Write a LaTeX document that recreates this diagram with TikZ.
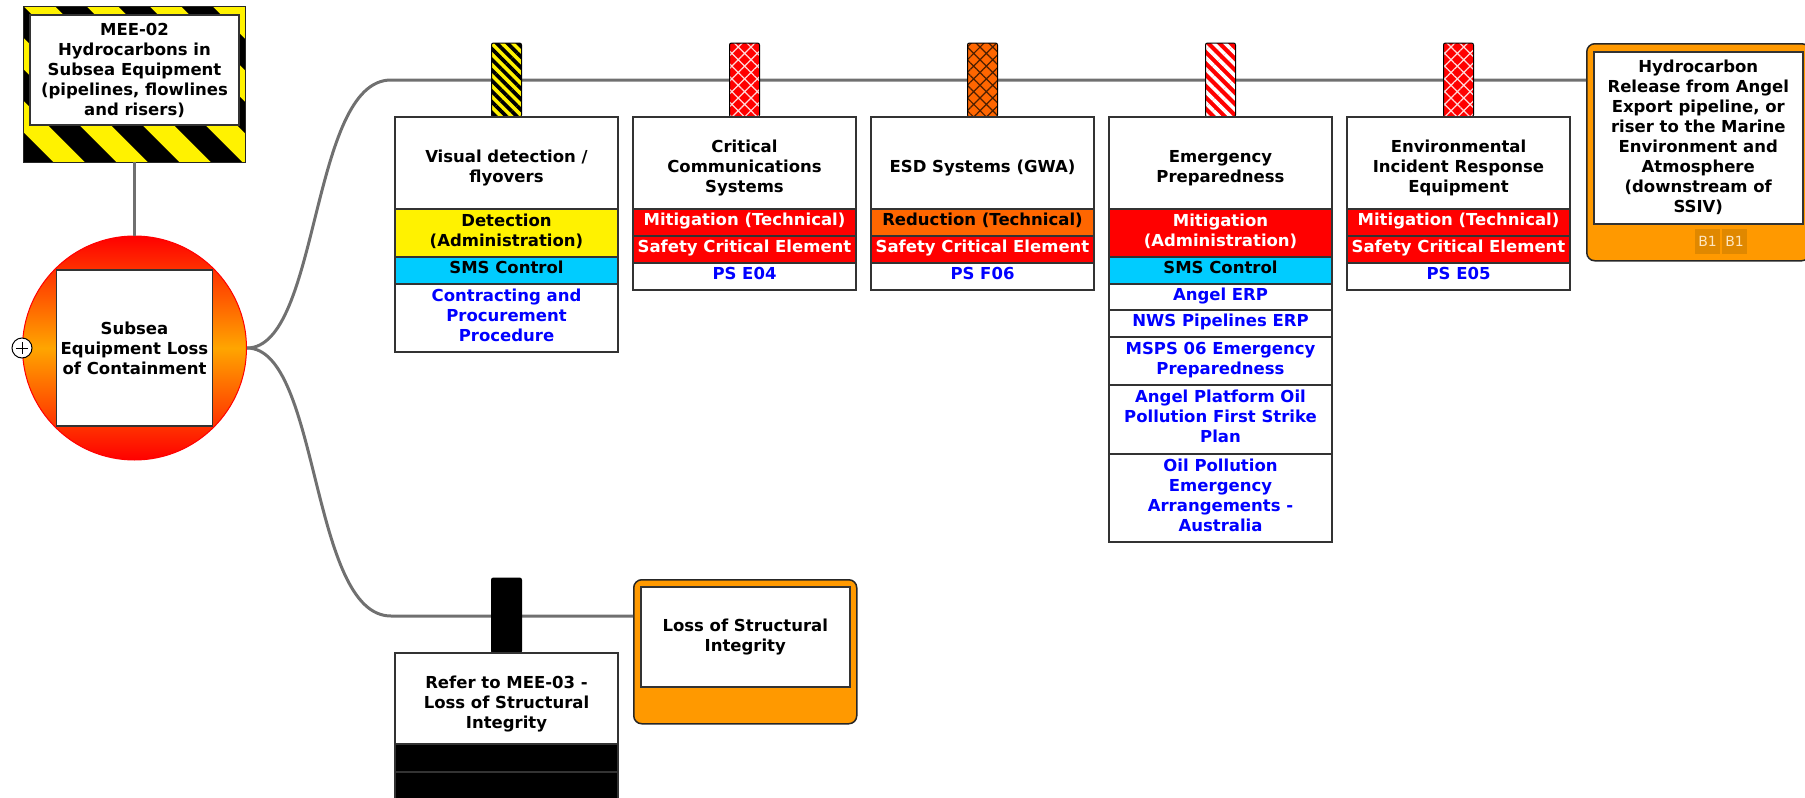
\documentclass[tikz,border=0pt]{standalone}
\usepackage{fontspec}
\setmainfont{DejaVu Sans}
\usetikzlibrary{patterns.meta}
\definecolor{linegray}{HTML}{707070}
\definecolor{smsblue}{HTML}{00CCFF}
\definecolor{reduce}{HTML}{FF6600}
\definecolor{conseq}{HTML}{FF9900}
\definecolor{midorange}{HTML}{FFA500}
\definecolor{linkblue}{HTML}{0000FF}
\definecolor{badge}{HTML}{E08800}
\definecolor{badgetext}{HTML}{FFE6BF}
\begin{document}
\begin{tikzpicture}[x=1pt,y=-1pt,font=\fontsize{16.5}{20}\selectfont\bfseries,
  cell/.style={draw=black!80, line width=1.2pt, minimum width=223, minimum height=#1, inner sep=0pt, outer sep=0pt, anchor=north, align=center, text depth=6pt},
  title/.style 2 args={cell=#1, fill=white, text depth=0pt, text height=#2},
  doc/.style={cell=#1, fill=white, text=linkblue},
  redcell/.style={cell=#1, fill=red, text=white},
  peg/.style={draw=black, line width=1pt, minimum width=30, minimum height=74, inner sep=0pt, outer sep=0pt, anchor=north, rounded corners=2},
  link/.style={draw=linegray, line width=3pt},
  frame/.style={draw=black!85, line width=1.5pt, fill=conseq, rounded corners=8, inner sep=0pt, anchor=north west},
  label/.style={draw=black!80, line width=1.5pt, fill=white, inner sep=0pt, align=center},
  tag/.style={fill=badge, minimum width=25, minimum height=25, inner sep=0pt, text=badgetext, font=\fontsize{14}{14}\selectfont\mdseries}]
  \useasboundingbox (0,0) rectangle (1805,798);
  \clip (0,0) rectangle (1805,798);
  \node[fill=yellow, minimum width=222, minimum height=155, inner sep=0pt] (hazard) at (134.5,84.5) {};
  \begin{scope}
    \clip (hazard.north west) rectangle (hazard.south east);
    \foreach \x in {37.5,100.5,...,352.5}
      \draw[line width=22pt] (\x-200,-38) -- (\x+50,212);
  \end{scope}
  \draw[black!85, line width=1.2pt] (hazard.north west) rectangle (hazard.south east);
  \node[label, minimum width=209, minimum height=110] (hazardtxt) at (134.5,70) {MEE-02\\Hydrocarbons in\\Subsea Equipment\\(pipelines, flowlines\\and risers)};
  \node[circle, minimum size=224, inner sep=0pt, draw=red, line width=1pt, top color=red, bottom color=red, middle color=midorange] (event) at (134.5,348) {};
  \node[label, minimum size=156] (eventtxt) at (event) {Subsea\\Equipment Loss\\of Containment};
  \node[circle, draw=black, line width=1pt, fill=white, minimum size=20, inner sep=0pt] (expand) at (22,348) {};
  \draw[line width=1pt] (expand.center) +(-6,0) -- +(6,0) (expand.center) +(0,-6) -- +(0,6);
  \draw[link] (hazard.south) -- (event.north);
  \node[frame, minimum width=223, minimum height=217] (cons) at (1586,43) {};
  \node[label, minimum width=209, minimum height=172, anchor=north west] (constxt) at (1593,51) {Hydrocarbon\\Release from Angel\\Export pipeline, or\\riser to the Marine\\Environment and\\Atmosphere\\(downstream of\\SSIV)};
  \node[tag] (badgea) at (1707.5,241.5) {B1};
  \node[tag] (badgeb) at (1734.5,241.5) {B1};
  \node[frame, minimum width=223, minimum height=144] (struct) at (633,579) {};
  \node[label, minimum width=209, minimum height=100, anchor=north west] (structtxt) at (640,586) {Loss of Structural\\Integrity};
  \coordinate (upper) at (391,80);
  \coordinate (lower) at (391,616);
  \draw[link] (event.east) .. controls (320,348) and (310,80) .. (upper) -- (upper -| cons.west);
  \draw[link] (event.east) .. controls (320,348) and (310,616) .. (lower) -- (lower -| struct.west);
  \node[peg, preaction={fill=yellow}, pattern={Lines[angle=-45,distance=7.5pt,line width=3.7pt]}, pattern color=black] (visualpeg) at (506.5,43) {};
  \node[peg, preaction={fill=red}, pattern={Hatch[angle=45,distance=9pt,line width=1.2pt]}, pattern color=white!85!red] (commspeg) at (744.5,43) {};
  \node[peg, preaction={fill=reduce}, pattern={Hatch[angle=45,distance=9pt,line width=1.2pt]}, pattern color=black!70!reduce] (esdpeg) at (982.5,43) {};
  \node[peg, preaction={fill=red}, pattern={Lines[angle=-45,distance=8pt,line width=3.6pt]}, pattern color=white] (emergpeg) at (1220.5,43) {};
  \node[peg, preaction={fill=red}, pattern={Hatch[angle=45,distance=9pt,line width=1.2pt]}, pattern color=white!85!red] (envpeg) at (1458.5,43) {};
  \node[title={92}{39pt}] (visual) at (506.5,117) {Visual detection /\\flyovers};
  \node[cell=48, fill=yellow] (visualcat) at (visual.south) {Detection\\(Administration)};
  \node[cell=27, fill=smsblue] (visualsms) at (visualcat.south) {SMS Control};
  \node[doc=68] (visualdoc) at (visualsms.south) {Contracting and\\Procurement\\Procedure};
  \node[title={92}{59pt}] (comms) at (744.5,117) {Critical\\Communications\\Systems};
  \node[redcell=27] (commscat) at (comms.south) {Mitigation (Technical)};
  \node[redcell=27] (commssce) at (commscat.south) {Safety Critical Element};
  \node[doc=27] (commsps) at (commssce.south) {PS E04};
  \node[title={92}{19pt}] (esd) at (982.5,117) {ESD Systems (GWA)};
  \node[cell=27, fill=reduce] (esdcat) at (esd.south) {Reduction (Technical)};
  \node[redcell=27] (esdsce) at (esdcat.south) {Safety Critical Element};
  \node[doc=27] (esdps) at (esdsce.south) {PS F06};
  \node[title={92}{39pt}] (emerg) at (1220.5,117) {Emergency\\Preparedness};
  \node[redcell=48] (emergcat) at (emerg.south) {Mitigation\\(Administration)};
  \node[cell=27, fill=smsblue] (emergsms) at (emergcat.south) {SMS Control};
  \node[doc=26] (emergerp) at (emergsms.south) {Angel ERP};
  \node[doc=27] (emergnws) at (emergerp.south) {NWS Pipelines ERP};
  \node[doc=48] (emergmsps) at (emergnws.south) {MSPS 06 Emergency\\Preparedness};
  \node[doc=69] (emergplan) at (emergmsps.south) {Angel Platform Oil\\Pollution First Strike\\Plan};
  \node[doc=88] (emergoil) at (emergplan.south) {Oil Pollution\\Emergency\\Arrangements -\\Australia};
  \node[title={92}{59pt}] (env) at (1458.5,117) {Environmental\\Incident Response\\Equipment};
  \node[redcell=27] (envcat) at (env.south) {Mitigation (Technical)};
  \node[redcell=27] (envsce) at (envcat.south) {Safety Critical Element};
  \node[doc=27] (envps) at (envsce.south) {PS E05};
  \node[peg, minimum height=75, fill=black] (referpeg) at (506.5,578) {};
  \node[title={91}{59pt}] (refer) at (506.5,653) {Refer to MEE-03 -\\Loss of Structural\\Integrity};
  \node[cell=28, fill=black] (refercat) at (refer.south) {};
  \node[cell=30, fill=black] (refersce) at (refercat.south) {};
\end{tikzpicture}
\end{document}
